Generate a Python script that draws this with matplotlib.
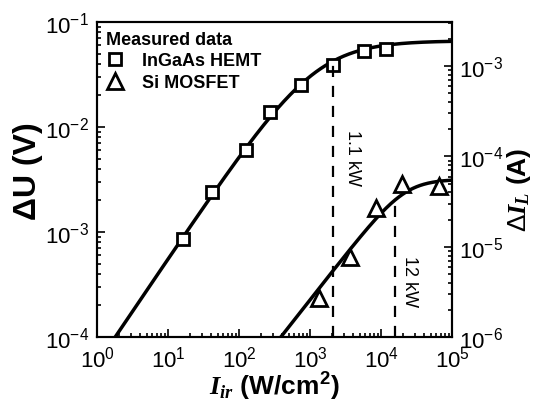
import numpy as np
import matplotlib
matplotlib.use('Agg')
import matplotlib.pyplot as plt
from matplotlib.ticker import FuncFormatter, LogLocator, NullFormatter

plt.rcParams['font.family'] = ['Liberation Sans', 'DejaVu Sans']
plt.rcParams['mathtext.fontset'] = 'custom'
plt.rcParams['mathtext.rm'] = 'Liberation Sans'
plt.rcParams['mathtext.bf'] = 'Liberation Sans:bold'
plt.rcParams['mathtext.it'] = 'Liberation Serif:italic:bold'

hemt_I = [16.3, 41.7, 125, 273, 745, 2080, 5750, 11700]
hemt_dU = [8.6e-4, 2.4e-3, 6.0e-3, 1.38e-2, 2.5e-2, 3.9e-2, 5.3e-2, 5.5e-2]
mos_I = [1340, 3650, 8500, 19800, 65000]
mos_dI = [2.7e-6, 7.7e-6, 2.7e-5, 4.9e-5, 4.7e-5]

# fitted model y = a*x / (1 + (x/x0)^n)^(1/n)
hemt_fit = dict(a=5.6e-5, x0=1180, n=1.0)
mos_fit = dict(a=2.6e-9, x0=21500, n=2.0)
hemt_mark = 2080     # "1.1 kW"
mos_mark = 15800     # "12 kW"


def model(x, a, x0, n):
    return a * x / (1 + (x / x0) ** n) ** (1.0 / n)


def pow_fmt(v, pos):
    return r'$\mathregular{10^{%d}}$' % int(round(np.log10(v)))


fig = plt.figure(figsize=(5.37, 4.02), dpi=100)
ax = fig.add_axes([0.181, 0.159, 0.661, 0.784])
ax2 = ax.twinx()

xs = np.logspace(0, 5, 400)
ax.plot(xs, model(xs, **hemt_fit), 'k-', lw=2.5)
h1, = ax.plot(hemt_I, hemt_dU, 's', ms=8, mfc='white', mec='k', mew=2,
              ls='none', label='InGaAs HEMT')
ax.plot([hemt_mark, hemt_mark], [1e-4, model(hemt_mark, **hemt_fit)],
        'k--', lw=1.6, dashes=(5, 4))

ax2.plot(xs, model(xs, **mos_fit), 'k-', lw=2.5)
h2, = ax2.plot(mos_I, mos_dI, '^', ms=11, mfc='white', mec='k', mew=2,
               ls='none', label='Si MOSFET')
ax2.plot([mos_mark, mos_mark], [1e-6, model(mos_mark, **mos_fit)],
         'k--', lw=1.6, dashes=(5, 4))

ax.text(3900, 5.2e-3, '1.1 kW', rotation=-90, fontsize=13,
        ha='center', va='center')
ax2.text(24700, 4.2e-6, '12 kW', rotation=-90, fontsize=13,
         ha='center', va='center')

for a in (ax, ax2):
    a.set_xscale('log')
    a.set_yscale('log')
ax.set_xlim(1, 1e5)
ax.set_ylim(1e-4, 1e-1)
ax2.set_ylim(1e-6, 10 ** -2.51)

for a in (ax, ax2):
    a.xaxis.set_major_locator(LogLocator(base=10, numticks=10))
    a.yaxis.set_major_locator(LogLocator(base=10, numticks=10))
    a.yaxis.set_minor_locator(LogLocator(base=10, subs=np.arange(2, 10), numticks=10))
    a.yaxis.set_major_formatter(FuncFormatter(pow_fmt))
    a.yaxis.set_minor_formatter(NullFormatter())
ax.xaxis.set_minor_locator(LogLocator(base=10, subs=np.arange(2, 10), numticks=10))
ax.xaxis.set_major_formatter(FuncFormatter(pow_fmt))
ax.xaxis.set_minor_formatter(NullFormatter())

ax.tick_params(which='both', direction='in', top=False, right=False,
               labelsize=16, width=1.2)
ax.tick_params(which='major', length=6, pad=6)
ax.tick_params(which='minor', length=3)
ax2.tick_params(which='both', direction='in', labelsize=16, width=1.2)
ax2.tick_params(which='major', length=6, pad=5)
ax2.tick_params(which='minor', length=3)
for s in list(ax.spines.values()) + list(ax2.spines.values()):
    s.set_linewidth(1.5)

ax.set_ylabel('ΔU (V)', fontsize=23, fontweight='bold')
ax.yaxis.set_label_coords(-0.152, 0.53)
ax2.set_ylabel(r'$\Delta\mathit{I}_{\mathit{L}}$ $\mathbf{(A)}$', fontsize=19)
ax2.yaxis.set_label_coords(1.148, 0.47)
ax.set_xlabel(r'$\mathit{I}_{\mathit{ir}}$ $\mathbf{(W/cm^{2})}$', fontsize=19,
              labelpad=-1)

leg = ax.legend(handles=[h1, h2], title='Measured data', loc='upper left',
                frameon=False, alignment='left', handlelength=1.0,
                handletextpad=1.0, borderaxespad=0.2, borderpad=0.3,
                labelspacing=0.25,
                prop={'weight': 'bold', 'size': 13},
                title_fontproperties={'weight': 'bold', 'size': 13})

fig.savefig('out.png', dpi=100)
